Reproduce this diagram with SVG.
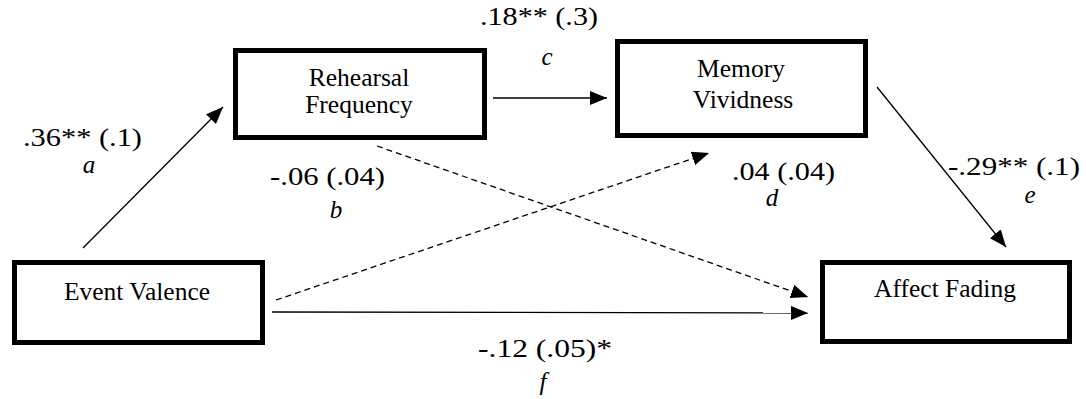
<svg xmlns="http://www.w3.org/2000/svg" width="1086" height="399" viewBox="0 0 1086 399">
<style>
.box{fill:#fff;stroke:#000;stroke-width:5}
text{font-family:'Liberation Serif','Times New Roman',serif;fill:#000}
.t{font-size:25.5px}
.n{font-size:25px}
.i{font-style:italic}
.c{fill:none;stroke:#000;stroke-width:1.3}
.d{stroke-dasharray:6 4}
</style>
<defs>
<marker id="ah" markerUnits="userSpaceOnUse" markerWidth="18" markerHeight="14" refX="17" refY="7" orient="auto">
<path d="M0,0 L17,7 L0,14 Z" fill="#000"/>
</marker>
</defs>
<g id="connectors">
<line class="c" x1="83" y1="248" x2="223" y2="107" marker-end="url(#ah)"/>
<line class="c" x1="493" y1="98" x2="607" y2="98" marker-end="url(#ah)"/>
<line class="c" x1="877" y1="87" x2="1006" y2="247" marker-end="url(#ah)"/>
<line class="c" x1="272" y1="312" x2="808" y2="313" marker-end="url(#ah)"/>
<line class="c d" x1="276" y1="300" x2="709" y2="153" marker-end="url(#ah)"/>
<line class="c d" x1="377" y1="146" x2="808" y2="297" marker-end="url(#ah)"/>
</g>
<g id="rehearsal">
<rect class="box" x="235.5" y="50.5" width="249" height="87"/>
<text class="t" x="359" y="86" text-anchor="middle">Rehearsal</text>
<text class="t" x="359" y="113" text-anchor="middle">Frequency</text>
</g>
<g id="memory">
<rect class="box" x="617.5" y="41.5" width="248" height="94"/>
<text class="t" x="741" y="77" text-anchor="middle">Memory</text>
<text class="t" x="743" y="108" text-anchor="middle">Vividness</text>
</g>
<g id="event">
<rect class="box" x="14.5" y="262.5" width="248" height="80"/>
<text class="t" x="137" y="300" text-anchor="middle">Event Valence</text>
</g>
<g id="affect">
<rect class="box" x="822.5" y="262.5" width="247" height="79"/>
<text class="t" x="945" y="297" text-anchor="middle">Affect Fading</text>
</g>
<g id="labels">
<text class="n" x="23" y="146" textLength="119" lengthAdjust="spacingAndGlyphs">.36** (.1)</text>
<text class="n i" x="89" y="173" text-anchor="middle">a</text>
<text class="n" x="270" y="185" textLength="115" lengthAdjust="spacingAndGlyphs">-.06 (.04)</text>
<text class="n i" x="336" y="218" text-anchor="middle">b</text>
<text class="n" x="480" y="25" textLength="118" lengthAdjust="spacingAndGlyphs">.18** (.3)</text>
<text class="n i" x="547" y="65" text-anchor="middle">c</text>
<text class="n" x="732" y="180" textLength="103" lengthAdjust="spacingAndGlyphs">.04 (.04)</text>
<text class="n i" x="772" y="206" text-anchor="middle">d</text>
<text class="n" x="948" y="175" textLength="132" lengthAdjust="spacingAndGlyphs">-.29** (.1)</text>
<text class="n i" x="1030" y="203" text-anchor="middle">e</text>
<text class="n" x="478" y="357" textLength="134" lengthAdjust="spacingAndGlyphs">-.12 (.05)*</text>
<text class="n i" x="543" y="390" text-anchor="middle">f</text>
</g>
</svg>
